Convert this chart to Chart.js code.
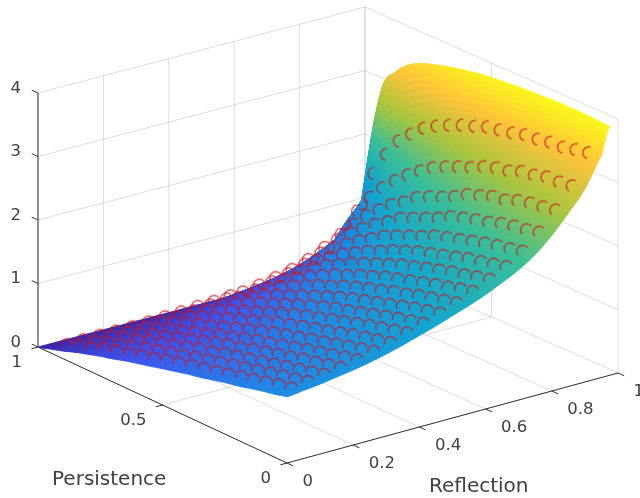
<!DOCTYPE html>
<html>
<head>
<meta charset="utf-8">
<style>
  html, body { margin: 0; padding: 0; background: #fff; }
  canvas { display: block; filter: blur(0.5px); }
</style>
<script src="https://cdn.jsdelivr.net/npm/chart.js@4"></script>
</head>
<body>
<canvas id="chart" width="640" height="498"></canvas>
<script>
// surface values, one list per reflection value
const reflection = [0, .05, .1, .15, .2, .25, .3, .35, .4, .45, .5, .55, .6, .65, .7, .75, .8, .85, .9, .95, .975];
const persistence = [0, .05, .1, .15, .2, .25, .3, .35, .4, .45, .5, .55, .6, .65, .7, .75, .8, .85, .9, .95, 1];

const z000 = [1.04, .99, .95, .90, .85, .81, .76, .71, .67, .62, .57, .52, .47, .42, .36, .31, .25, .19, .12, .06, 0];
const z005 = [1.07, 1.02, .98, .93, .88, .83, .78, .73, .69, .64, .59, .54, .48, .43, .37, .32, .26, .19, .13, .06, 0];
const z010 = [1.10, 1.05, 1.00, .96, .91, .86, .81, .76, .71, .66, .61, .55, .50, .44, .39, .33, .26, .20, .13, .07, 0];
const z015 = [1.14, 1.09, 1.04, .99, .94, .89, .84, .79, .74, .69, .63, .58, .52, .46, .40, .34, .27, .21, .14, .07, 0];
const z020 = [1.18, 1.13, 1.08, 1.03, .99, .93, .88, .83, .78, .72, .67, .61, .54, .48, .41, .35, .28, .21, .14, .07, 0];
const z025 = [1.23, 1.18, 1.13, 1.08, 1.03, .98, .92, .87, .81, .76, .70, .63, .57, .50, .43, .36, .30, .22, .15, .07, 0];
const z030 = [1.29, 1.24, 1.19, 1.14, 1.09, 1.03, .98, .92, .87, .81, .75, .68, .61, .54, .47, .40, .33, .25, .17, .08, 0];
const z035 = [1.36, 1.31, 1.26, 1.21, 1.16, 1.10, 1.04, .99, .93, .87, .81, .74, .66, .59, .51, .44, .36, .27, .18, .09, 0];
const z040 = [1.44, 1.39, 1.34, 1.29, 1.24, 1.18, 1.12, 1.06, 1.00, .94, .87, .80, .72, .64, .56, .48, .40, .30, .21, .10, 0];
const z045 = [1.52, 1.47, 1.42, 1.37, 1.31, 1.25, 1.19, 1.13, 1.08, 1.01, .94, .86, .78, .70, .62, .53, .44, .33, .23, .12, 0];
const z050 = [1.61, 1.56, 1.51, 1.46, 1.40, 1.34, 1.28, 1.22, 1.16, 1.09, 1.01, .93, .85, .76, .68, .58, .48, .37, .26, .13, 0];
const z055 = [1.70, 1.65, 1.60, 1.55, 1.50, 1.43, 1.38, 1.31, 1.25, 1.18, 1.11, 1.02, .94, .85, .75, .65, .54, .42, .30, .15, 0];
const z060 = [1.80, 1.76, 1.71, 1.65, 1.60, 1.54, 1.48, 1.42, 1.36, 1.28, 1.21, 1.12, 1.04, .94, .84, .72, .61, .48, .34, .18, 0];
const z065 = [1.92, 1.88, 1.83, 1.77, 1.73, 1.67, 1.61, 1.54, 1.48, 1.40, 1.32, 1.24, 1.15, 1.04, .94, .81, .69, .54, .39, .21, 0];
const z070 = [2.05, 2.01, 1.96, 1.91, 1.87, 1.80, 1.74, 1.68, 1.62, 1.54, 1.46, 1.36, 1.27, 1.16, 1.05, .91, .78, .62, .45, .25, 0];
const z075 = [2.22, 2.18, 2.13, 2.09, 2.04, 1.98, 1.92, 1.86, 1.80, 1.70, 1.62, 1.53, 1.44, 1.31, 1.19, 1.05, .91, .73, .54, .31, 0];
const z080 = [2.45, 2.41, 2.36, 2.33, 2.28, 2.21, 2.16, 2.10, 2.03, 1.92, 1.83, 1.74, 1.65, 1.51, 1.38, 1.23, 1.07, .87, .66, .39, 0];
const z085 = [2.73, 2.69, 2.65, 2.62, 2.57, 2.49, 2.46, 2.38, 2.31, 2.19, 2.09, 2.01, 1.91, 1.75, 1.62, 1.45, 1.27, 1.05, .80, .50, 0];
const z090 = [3.04, 3.00, 2.97, 2.96, 2.90, 2.87, 2.79, 2.75, 2.68, 2.58, 2.50, 2.41, 2.31, 2.17, 2.02, 1.84, 1.64, 1.40, 1.10, .80, 0];
const z095 = [3.50, 3.45, 3.41, 3.36, 3.35, 3.31, 3.29, 3.23, 3.19, 3.15, 3.07, 3.00, 2.91, 2.81, 2.69, 2.51, 2.31, 2.01, 1.62, 1.06, 0];
const z0975 = [3.92, 3.93, 3.94, 3.94, 3.94, 3.93, 3.92, 3.91, 3.89, 3.87, 3.85, 3.81, 3.77, 3.72, 3.66, 3.59, 3.47, 3.27, 2.95, 1.85, 0];
const zRows = [z000, z005, z010, z015, z020, z025, z030, z035, z040, z045, z050, z055, z060, z065, z070, z075, z080, z085, z090, z095, z0975];

const reflectionTicks = [0, .2, .4, .6, .8, 1];
const reflectionTickLabels = ["0", "0.2", "0.4", "0.6", "0.8", "1"];
const persistenceTicks = [0, .5, 1];
const persistenceTickLabels = ["0", "0.5", "1"];
const heightTicks = [0, 1, 2, 3, 4];
const heightTickLabels = ["0", "1", "2", "3", "4"];

const parula = [[62, 38, 168], [62, 82, 236], [30, 133, 230], [15, 165, 205], [55, 190, 150], [168, 196, 60], [254, 195, 56], [249, 251, 21]];
const zTop = 3.95;

// box corners on the floor, the view is a 3D one flattened onto a plain x/y scatter
function project(r, p, z) {
  const x = (1 - r) * (1 - p) * 287 + r * (1 - p) * 618 + (1 - r) * p * 38 + r * p * 365;
  const y = (1 - r) * (1 - p) * 463 + r * (1 - p) * 373 + (1 - r) * p * 347 + r * p * 261;
  return { x: x, y: y - z * 63.5 };
}

function color(z) {
  const t = Math.pow(Math.min(Math.max(z / zTop, 0), 1), 0.88) * (parula.length - 1);
  const i = Math.min(Math.floor(t), parula.length - 2);
  const f = t - i;
  const c = parula[i].map((v, k) => Math.round(v + (parula[i + 1][k] - v) * f));
  return "rgb(" + c.join(",") + ")";
}

// lines
const gap = { x: NaN, y: NaN };
let gridLine = [];
let axisLine = [];
function seg(list, a, b) {
  list.push(project(a[0], a[1], a[2]), project(b[0], b[1], b[2]), gap);
}
reflectionTicks.forEach(r => {
  seg(gridLine, [r, 1, 0], [r, 1, 4]);
  seg(gridLine, [r, 0, 0], [r, 1, 0]);
  seg(axisLine, [r, 0, 0], [r, -.025, 0]);
});
persistenceTicks.forEach(p => {
  seg(gridLine, [1, p, 0], [1, p, 4]);
  seg(gridLine, [0, p, 0], [1, p, 0]);
  seg(axisLine, [0, p, 0], [-.02, p, 0]);
});
heightTicks.forEach(z => {
  if (z > 0) {
    seg(gridLine, [0, 1, z], [1, 1, z]);
    seg(gridLine, [1, 0, z], [1, 1, z]);
  }
  seg(axisLine, [0, 1, z], [0, 1.025, z]);
});
seg(axisLine, [0, 1, 0], [0, 1, 4]);
seg(axisLine, [0, 0, 0], [1, 0, 0]);
seg(axisLine, [0, 0, 0], [0, 1, 0]);

// markers sit on the interior grid nodes, half of each ring is buried in the surface
let markers = [];
let markerTurn = [];
for (let i = 1; i <= 19; i++) {
  for (let j = 1; j <= 19; j++) {
    const z = zRows[i][j];
    markers.push(project(reflection[i], persistence[j], z));
    const dr = (zRows[i + 1][j] - zRows[i - 1][j]) / (reflection[i + 1] - reflection[i - 1]);
    const dp = (zRows[i][j + 1] - zRows[i][j - 1]) / (persistence[j + 1] - persistence[j - 1]);
    const ax = 331, ay = -90 - 63.5 * dr, ad = -236 + 24.2 * dr;
    const bx = -249, by = -116 - 63.5 * dp, bd = -304 + 24.2 * dp;
    const det = ax * by - ay * bx;
    const gx = (ad * by - ay * bd) / det;
    const gy = (ax * bd - bx * ad) / det;
    markerTurn.push(Math.atan2(-gy, -gx) * 180 / Math.PI);
  }
}

const ring = document.createElement("canvas");
ring.width = 18;
ring.height = 18;
const rc = ring.getContext("2d");
rc.strokeStyle = "rgba(200,20,30,0.72)";
rc.lineWidth = 1.5;
rc.beginPath();
rc.arc(9, 9, 6, -Math.PI / 2, Math.PI / 2);
rc.stroke();

// smooth shading inside a grid cell, only for painting between the listed nodes
function spline(a, b, c, d, t) {
  return 0.5 * (2 * b + (c - a) * t + (2 * a - 5 * b + 4 * c - d) * t * t + (3 * b - a - 3 * c + d) * t * t * t);
}
function zAt(i, j) {
  const ii = Math.max(0, Math.min(zRows.length - 1, i));
  const jj = Math.max(0, Math.min(persistence.length - 1, j));
  return zRows[ii][jj];
}
function smoothZ(i, j, u, v) {
  const row = k => spline(zAt(i + k, j - 1), zAt(i + k, j), zAt(i + k, j + 1), zAt(i + k, j + 2), v);
  return Math.max(0, spline(row(-1), row(0), row(1), row(2), u));
}

function drawSurface(chart) {
  const ctx = chart.ctx;
  const sx = chart.scales.x, sy = chart.scales.y;
  const n = 5;
  const last = reflection.length - 2;
  const corner = (i, j, u, v) => {
    const r = reflection[i] + (reflection[i + 1] - reflection[i]) * u;
    const p = persistence[j] + (persistence[j + 1] - persistence[j]) * v;
    const z = smoothZ(i, j, u, v);
    const q = project(r, p, z);
    return { x: sx.getPixelForValue(q.x), y: sy.getPixelForValue(q.y), z: z };
  };
  ctx.save();
  ctx.lineWidth = 0.7;
  for (let i = last; i >= 0; i--) {
    const nr = i >= last - 4 ? 10 : n;
    for (let j = persistence.length - 2; j >= 0; j--) {
      const np = j >= persistence.length - 4 ? 10 : n;
      for (let a = nr - 1; a >= 0; a--) {
        for (let b = np - 1; b >= 0; b--) {
          const q1 = corner(i, j, a / nr, b / np);
          const q2 = corner(i, j, (a + 1) / nr, b / np);
          const q3 = corner(i, j, (a + 1) / nr, (b + 1) / np);
          const q4 = corner(i, j, a / nr, (b + 1) / np);
          const c = color((q1.z + q2.z + q3.z + q4.z) / 4);
          ctx.fillStyle = c;
          ctx.strokeStyle = c;
          ctx.beginPath();
          ctx.moveTo(q1.x, q1.y);
          ctx.lineTo(q2.x, q2.y);
          ctx.lineTo(q3.x, q3.y);
          ctx.lineTo(q4.x, q4.y);
          ctx.closePath();
          ctx.fill();
          ctx.stroke();
        }
      }
    }
  }
  ctx.restore();
}

function drawText(chart) {
  const ctx = chart.ctx;
  const sx = chart.scales.x, sy = chart.scales.y;
  const put = (s, q, dx, dy, align) => {
    ctx.textAlign = align;
    ctx.fillText(s, sx.getPixelForValue(q.x) + dx, sy.getPixelForValue(q.y) + dy);
  };
  ctx.save();
  ctx.fillStyle = "#404040";
  ctx.textBaseline = "middle";
  ctx.font = "16.5px 'DejaVu Sans'";
  reflectionTicks.forEach((r, i) => put(reflectionTickLabels[i], project(r, 0, 0), 15.5, 19, "left"));
  persistenceTicks.forEach((p, i) => put(persistenceTickLabels[i], project(0, p, 0), -16, 16, "right"));
  heightTicks.forEach((z, i) => put(heightTickLabels[i], project(0, 1, z), -17, -4.5, "right"));
  ctx.font = "20px 'DejaVu Sans'";
  ctx.textBaseline = "alphabetic";
  put("Persistence", { x: 52, y: 485 }, 0, 0, "left");
  put("Reflection", { x: 429, y: 492 }, 0, 0, "left");
  ctx.restore();
}

const surfacePlugin = {
  id: "surface",
  beforeDatasetDraw(chart, args) {
    if (args.index === 2) drawSurface(chart);
  },
  afterDraw(chart) {
    drawText(chart);
  }
};

new Chart(document.getElementById("chart"), {
  type: "scatter",
  data: {
    datasets: [
      { label: "grid", data: gridLine, showLine: true, pointRadius: 0, borderColor: "rgba(38,38,38,0.15)", borderWidth: 1, order: 3 },
      { label: "axes", data: axisLine, showLine: true, pointRadius: 0, borderColor: "#333333", borderWidth: 1, order: 2 },
      { label: "markers", data: markers, showLine: false, pointStyle: ring, pointRadius: 6, pointRotation: markerTurn, order: 1 }
    ]
  },
  options: {
    responsive: false,
    animation: false,
    layout: { padding: 0, autoPadding: false },
    plugins: { legend: { display: false }, tooltip: { enabled: false } },
    scales: {
      x: { type: "linear", min: 0, max: 640, display: false },
      y: { type: "linear", min: 0, max: 498, reverse: true, display: false }
    }
  },
  plugins: [surfacePlugin]
});
</script>
</body>
</html>
